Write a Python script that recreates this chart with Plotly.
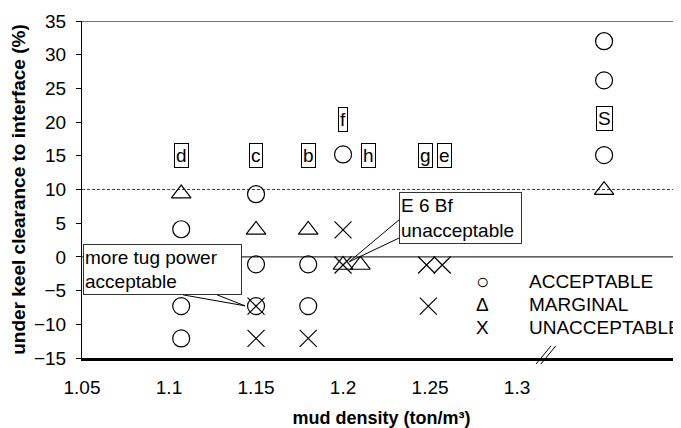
import plotly.graph_objects as go

# ---- data ----
acc_x = [1.107, 1.107, 1.107, 1.15, 1.15, 1.15, 1.18, 1.18, 1.2, 1.35, 1.35, 1.35]
acc_y = [4.1, -7.3, -12.1, 9.3, -1.1, -7.3, -1.1, -7.3, 15.2, 32.0, 26.2, 15.1]

mar_x = [1.107, 1.15, 1.18, 1.2, 1.21, 1.35]
mar_y = [9.4, 4.0, 4.0, -1.2, -1.2, 9.9]

una_x = [1.15, 1.15, 1.18, 1.2, 1.2, 1.248, 1.257, 1.249]
una_y = [-7.3, -12.1, -12.1, 4.0, -1.2, -1.2, -1.2, -7.3]

case_labels = ["d", "c", "b", "f", "h", "g", "e", "S"]
case_x = [1.107, 1.15, 1.18, 1.2, 1.2145, 1.2475, 1.2585, 1.35]
case_y = [15.0, 15.0, 15.0, 20.4, 15.0, 15.0, 15.0, 20.6]

x_tickvals = [1.05, 1.1, 1.15, 1.2, 1.25, 1.3]
x_ticktext = ["1.05", "1.1", "1.15", "1.2", "1.25", "1.3"]
y_tickvals = [-15, -10, -5, 0, 5, 10, 15, 20, 25, 30, 35]

legend_symbols = ["○", "Δ", "X"]
legend_names = ["ACCEPTABLE", "MARGINAL", "UNACCEPTABLE"]

FONT = "Arial, Liberation Sans, sans-serif"
FS = 19

fig = go.Figure()

mk = dict(color="black", size=17, line=dict(color="black", width=1.2))
fig.add_trace(go.Scatter(x=acc_x, y=acc_y, mode="markers",
                         marker=dict(symbol="circle-open", **mk), showlegend=False))
fig.add_trace(go.Scatter(x=mar_x, y=mar_y, mode="markers",
                         marker=dict(symbol="triangle-up-open", **mk), showlegend=False))
fig.add_trace(go.Scatter(x=una_x, y=una_y, mode="markers",
                         marker=dict(symbol="x-thin-open", **mk), showlegend=False))

X0, X1 = 1.05, 1.3942

shapes = [
    dict(type="line", xref="paper", yref="y", x0=0, x1=1, y0=10, y1=10,
         line=dict(color="#444", width=1, dash="3px,2px"), layer="below"),
    dict(type="line", xref="paper", yref="y", x0=0, x1=1, y0=0, y1=0,
         line=dict(color="black", width=1), layer="below"),
    dict(type="line", xref="paper", yref="y", x0=0, x1=1, y0=35, y1=35,
         line=dict(color="#444", width=1.5)),
    # callout wedges
    dict(type="path", xref="x", yref="y",
         path="M 1.108 -5.63 L 1.1437 -7.26 L 1.1276 -5.63",
         line=dict(color="black", width=1)),
    dict(type="path", xref="x", yref="y",
         path="M 1.2322 5.5 L 1.2034 -0.74 L 1.2322 2.8",
         line=dict(color="black", width=1)),
    # axis break marks
    dict(type="line", xref="paper", yref="paper", x0=0.758, x1=0.783, y0=-0.018, y1=0.036,
         line=dict(color="black", width=1)),
    dict(type="line", xref="paper", yref="paper", x0=0.766, x1=0.791, y0=-0.018, y1=0.036,
         line=dict(color="black", width=1)),
]

annotations = []
for lab, lx, ly in zip(case_labels, case_x, case_y):
    annotations.append(dict(x=lx, y=ly, xref="x", yref="y", text=lab, showarrow=False,
                            font=dict(family=FONT, size=FS, color="black"),
                            bordercolor="black", borderwidth=1, borderpad=1,
                            bgcolor="white"))

annotations.append(dict(x=1.0506, y=1.93, xref="x", yref="y", xanchor="left", yanchor="top",
                        text="more tug power<br>acceptable", align="left", showarrow=False,
                        width=155, height=47, valign="middle",
                        font=dict(family=FONT, size=FS, color="black"),
                        bordercolor="#333", borderwidth=1, borderpad=1, bgcolor="white"))
annotations.append(dict(x=1.2322, y=9.63, xref="x", yref="y", xanchor="left", yanchor="top",
                        text="E 6 Bf<br>unacceptable", align="left", showarrow=False,
                        width=119, height=48, valign="middle",
                        font=dict(family=FONT, size=FS, color="black"),
                        bordercolor="#333", borderwidth=1, borderpad=1, bgcolor="white"))

legend_y = [-3.7, -7.1, -10.5]
for sym, name, ly in zip(legend_symbols, legend_names, legend_y):
    annotations.append(dict(x=1.2799, y=ly, xref="x", yref="y", text=sym, showarrow=False,
                            font=dict(family=FONT, size=22 if sym == "○" else FS, color="black")))
    annotations.append(dict(x=1.3057, y=ly, xref="x", yref="y", text=name, showarrow=False,
                            xanchor="left", font=dict(family=FONT, size=FS, color="black")))

# page body has an 8px margin: figure is 673x420 so the plot area lands at the reference pixels
fig.update_layout(
    width=673, height=420,
    margin=dict(l=74, r=0, t=13, b=70),
    paper_bgcolor="white", plot_bgcolor="white",
    font=dict(family=FONT, size=FS, color="black"),
    shapes=shapes, annotations=annotations,
    showlegend=False,
)
fig.update_xaxes(range=[X0, X1], tickvals=x_tickvals, ticktext=x_ticktext,
                 showgrid=False, zeroline=False, showline=True, linecolor="black", linewidth=3,
                 ticks="", ticklabelstandoff=10,
                 tickfont=dict(family=FONT, size=FS),
                 title=dict(text="<b>mud density (ton/m³)</b>", standoff=16,
                            font=dict(family=FONT, size=18)))
fig.update_yaxes(range=[-15, 35], tickvals=y_tickvals,
                 showgrid=False, zeroline=False, showline=True, linecolor="black", linewidth=1,
                 ticks="outside", ticklen=5, tickcolor="black", ticklabelstandoff=6,
                 tickfont=dict(family=FONT, size=FS),
                 title=dict(text="<b>under keel clearance to interface (%)</b>", standoff=8,
                            font=dict(family=FONT, size=19)))

fig.write_html("out.html")
